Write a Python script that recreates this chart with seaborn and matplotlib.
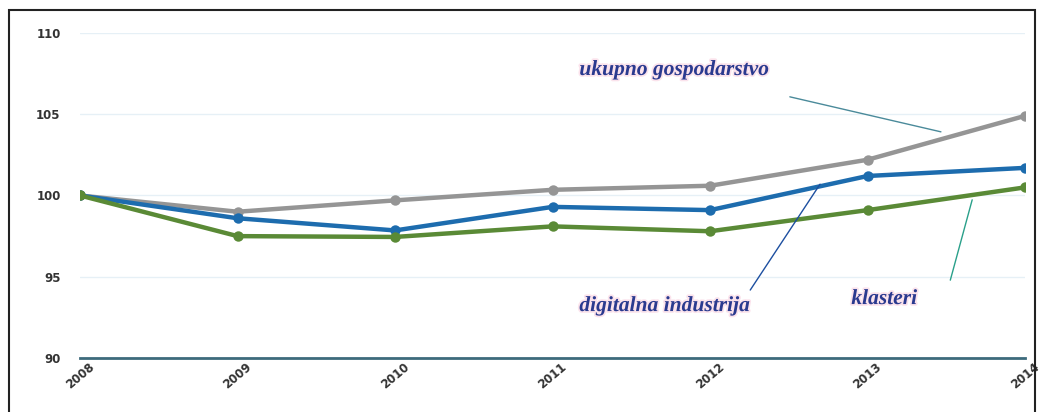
import numpy as np
import pandas as pd
import matplotlib.pyplot as plt
import seaborn as sns
from matplotlib.patches import Rectangle
import matplotlib.patheffects as pe

# -------------------
# Data (index, 2008 = 100)
# -------------------
years = [2008, 2009, 2010, 2011, 2012, 2013, 2014]
ukupno = [100.0, 99.0, 99.7, 100.35, 100.6, 102.2, 104.9]
digitalna = [100.0, 98.6, 97.85, 99.3, 99.1, 101.2, 101.7]
klasteri = [100.0, 97.5, 97.45, 98.1, 97.8, 99.1, 100.5]

series_names = ["ukupno gospodarstvo", "digitalna industrija", "klasteri"]
series_colors = ["#959595", "#1d6cae", "#5a8a36"]
y_ticks = [90, 95, 100, 105, 110]

df = pd.DataFrame({
    "year": years * 3,
    "value": ukupno + digitalna + klasteri,
    "series": np.repeat(series_names, len(years)),
})

# -------------------
# Plot
# -------------------
sns.set_style("white")
fig = plt.figure(figsize=(10.42, 4.12), dpi=100)
ax = fig.add_axes([0.0768, 0.131, 0.907, 0.789])

sns.lineplot(data=df, x="year", y="value", hue="series", hue_order=series_names,
             palette=series_colors, marker="o", markersize=7.5, markeredgewidth=0,
             linewidth=3.2, legend=False, ax=ax, zorder=3)

ax.set_xlim(2008, 2014)
ax.set_ylim(90, 110)
ax.set_yticks(y_ticks)
ax.set_xticks(years)
ax.set_xticklabels([str(y) for y in years], rotation=40, ha="center", va="top",
                   fontsize=8.5, fontweight="bold", color="#333333")
ax.set_yticklabels([str(v) for v in y_ticks], fontsize=8.5, fontweight="bold", color="#333333")
ax.tick_params(axis="y", length=0, pad=14)
ax.tick_params(axis="x", length=0, pad=2)
ax.set_xlabel("")
ax.set_ylabel("")
ax.grid(axis="y", color="#e6f0f6", linewidth=1)
for s in ["top", "right", "left"]:
    ax.spines[s].set_visible(False)
ax.spines["bottom"].set_color("#3d6b7c")
ax.spines["bottom"].set_linewidth(2)

# annotations
txt_style = dict(fontsize=15.5, fontstyle="italic", fontweight="bold", color="#2a3a8f",
                 family="Liberation Serif",
                 path_effects=[pe.withStroke(linewidth=2.5, foreground="#fbe3ec")])
fig.text(0.556, 0.818, "ukupno gospodarstvo", **txt_style)
fig.text(0.556, 0.245, "digitalna industrija", **txt_style)
fig.text(0.817, 0.262, "klasteri", **txt_style)

fig.add_artist(plt.Line2D([0.758, 0.903], [0.765, 0.680], color="#4a8a9a", linewidth=1,
                          transform=fig.transFigure))
fig.add_artist(plt.Line2D([0.720, 0.787], [0.296, 0.553], color="#1d4fa0", linewidth=1,
                          transform=fig.transFigure))
fig.add_artist(plt.Line2D([0.912, 0.933], [0.320, 0.515], color="#2aa08a", linewidth=1,
                          transform=fig.transFigure))

# outer frame
fig.add_artist(Rectangle((0.009, -0.1), 0.984, 1.075, transform=fig.transFigure,
                         fill=False, edgecolor="#222222", linewidth=1.5))

fig.savefig("out.png", dpi=100)
